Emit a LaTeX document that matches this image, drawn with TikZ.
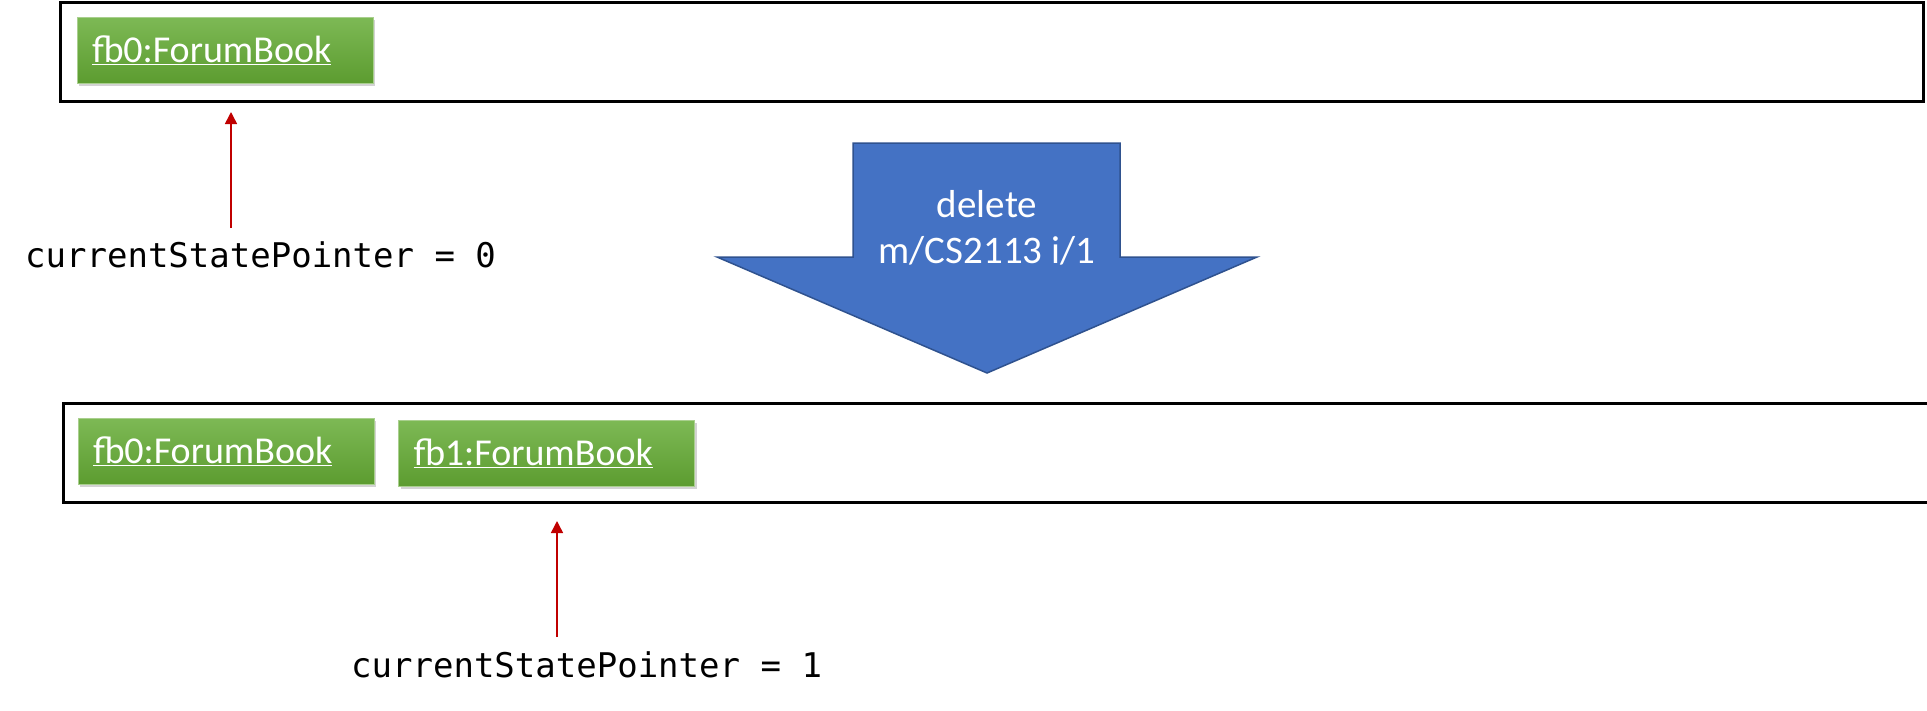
\documentclass[tikz,border=0pt]{standalone}
\usepackage{fontspec}
\setmainfont{Carlito}
\newfontfamily\ptrfont{DejaVu Sans Mono}
\usepackage{tikz}
\usetikzlibrary{arrows.meta, shadows}
\definecolor{statetop}{HTML}{7DB955}
\definecolor{statebottom}{HTML}{5C9C30}
\definecolor{stateedge}{HTML}{A9CF8E}
\definecolor{cmdblue}{HTML}{4472C4}
\definecolor{cmdedge}{HTML}{2F528F}
\definecolor{pointerred}{HTML}{C00000}
\tikzstyle{statelist} = [rectangle, draw=black, line width=3pt, minimum
    height=99pt, inner sep=0pt]
\tikzstyle{state} = [rectangle, minimum width=296pt, minimum height=66pt,
    inner xsep=15pt, text width=266pt, align=left, draw=stateedge,
    line width=0.8pt, top color=statetop, bottom color=statebottom,
    text=white, font=\fontsize{38}{44}\selectfont,
    drop shadow={shadow xshift=2pt, shadow yshift=-3pt, opacity=0.35}]
\tikzstyle{pointer} = [draw=pointerred, line width=1.5pt,
    -{Triangle[width=12pt, length=12pt, fill=pointerred]}]
\tikzstyle{ptrlabel} = [anchor=base west, inner sep=0pt,
    font=\ptrfont\fontsize{34}{40}\selectfont]
\tikzstyle{command} = [fill=cmdblue, draw=cmdedge, line width=1.5pt]

\begin{document}
\begin{tikzpicture}[x=1pt, y=-1pt]
            \clip (0,0) rectangle (1927,710);
            % State lists
            \node[statelist, minimum width=1863pt] (before) at (991.5,51.5) {};
            \node[statelist, minimum width=1877pt] (after) at (1001.5,452.5) {};
            % States
            \node[state] (fb0a) at (225,50) {\underline{fb0:ForumBook}};
            \node[state] (fb0b) at (226,451) {\underline{fb0:ForumBook}};
            \node[state] (fb1b) at (546.5,453) {\underline{fb1:ForumBook}};
            % Command
            \draw[command] (853,143) -- (1120,143) -- (1120,257) -- (1257,257)
            -- (987,373) -- (717,257) -- (853,257) -- cycle;
            \node[align=center, text=white, font=\fontsize{39}{46}\selectfont]
            (cmd) at (987,228) {delete\\m/CS2113 i/1};
            % Pointers
            \node[ptrlabel] (ptr0) at (25,267) {currentStatePointer = 0};
            \node[ptrlabel] (ptr1) at (351,677) {currentStatePointer = 1};
            \coordinate (ptr0tail) at (231,228);
            \coordinate (ptr0head) at (231,112);
            \coordinate (ptr1tail) at (557,637);
            \coordinate (ptr1head) at (557,521);
            \draw[pointer] (ptr0tail) -- (ptr0head);
            \draw[pointer] (ptr1tail) -- (ptr1head);

        \end{tikzpicture}
\end{document}
